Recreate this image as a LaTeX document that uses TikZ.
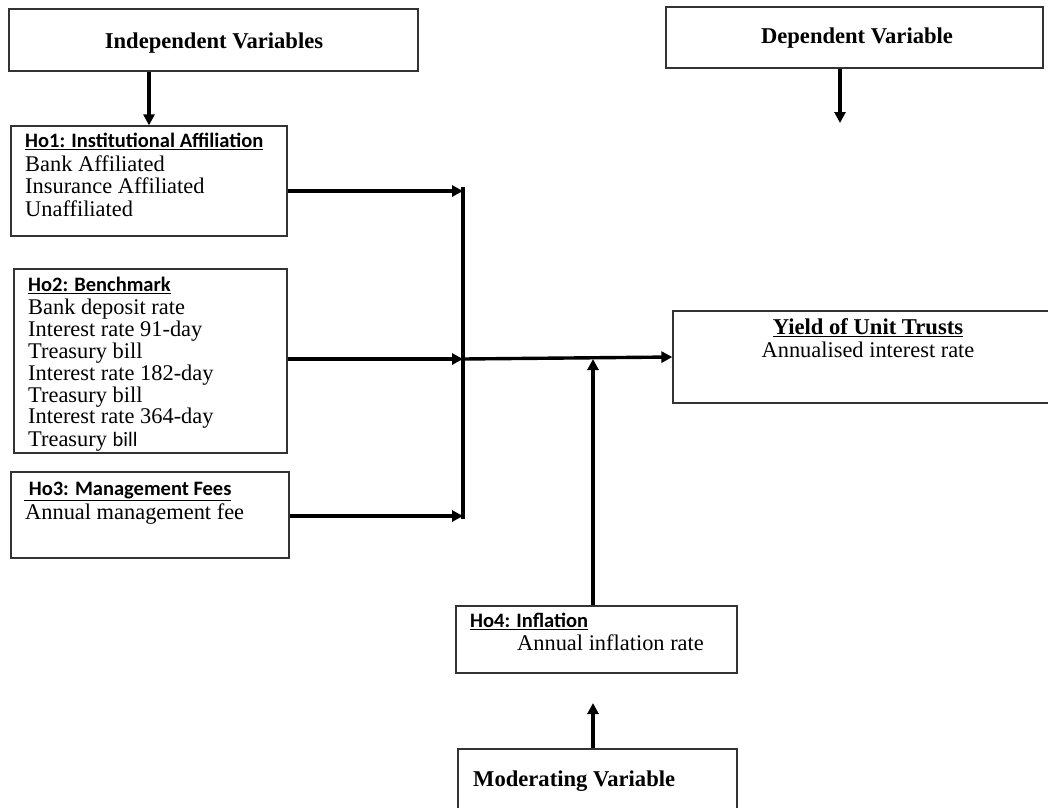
\documentclass[tikz,border=0pt]{standalone}
\usepackage{fontspec}
\setmainfont{Liberation Serif}
\newfontfamily\calib{Carlito}
\usetikzlibrary{arrows.meta}
\begin{document}
\begin{tikzpicture}[x=1pt,y=-1pt,
 box/.style={draw=black!80, line width=1.3pt, inner sep=0pt, rectangle},
 conn/.style={line width=3.4pt, black},
 arr/.style={conn, -{Triangle[length=11pt,width=11pt]}},
 txt/.style={anchor=mid west, inner sep=0pt, font=\fontsize{22.4}{23}\selectfont},
 hd/.style={anchor=mid west, inner sep=0pt, font=\calib\bfseries\fontsize{20.5}{21}\selectfont},
 ttl/.style={anchor=mid, inner sep=0pt, font=\bfseries\fontsize{22.6}{23}\selectfont}]
\useasboundingbox (0,0) rectangle (1048,807);
% boxes
\node[box, minimum width=409pt, minimum height=62pt] (indep) at (213.5,40) {};
\node[box, minimum width=377pt, minimum height=61pt] (dep) at (854.5,37.5) {};
\node[box, minimum width=276pt, minimum height=110pt] (ho1) at (149,181) {};
\node[box, minimum width=273pt, minimum height=184pt] (ho2) at (150.5,361) {};
\node[box, minimum width=278pt, minimum height=86pt] (ho3) at (150,515) {};
\node[box, minimum width=380pt, minimum height=92pt] (yield) at (863,357) {};
\node[box, minimum width=281pt, minimum height=67pt] (ho4) at (596.5,639.5) {};
\node[box, minimum width=279pt, minimum height=81pt] (mod) at (597.5,789.5) {};
% texts
\node[ttl] (indeptxt) at (214,46) {Independent Variables};
\node[ttl] (deptxt) at (857,41) {Dependent Variable};
\node[hd] (h1) at (25,145) {\underline{Ho1: Institutional Affiliation}};
\node[txt] (h1a) at (25,169) {Bank Affiliated};
\node[txt] (h1b) at (25,191) {Insurance Affiliated};
\node[txt] (h1c) at (25,214) {Unaffiliated};
\node[hd] (h2) at (28,289) {\underline{Ho2: Benchmark}};
\node[txt] (h2a) at (28,312) {Bank deposit rate};
\node[txt] (h2b) at (28,334) {Interest rate 91-day};
\node[txt] (h2c) at (28,356) {Treasury bill};
\node[txt] (h2d) at (28,378) {Interest rate 182-day};
\node[txt] (h2e) at (28,400) {Treasury bill};
\node[txt] (h2f) at (28,421) {Interest rate 364-day};
\node[txt] (h2g) at (28,444) {Treasury {\calib\fontsize{20.5}{21}\selectfont bill}};
\node[hd] (h3) at (24,493) {\underline{\ Ho3: Management Fees}};
\node[txt] (h3a) at (25,517) {Annual management fee};
\node[ttl] (ytxt) at (868,332) {\underline{Yield of Unit Trusts}};
\node[txt, anchor=mid] (ytxt2) at (868,355) {Annualised interest rate};
\node[hd] (h4) at (470,625) {\underline{Ho4: Inflation}};
\node[txt] (h4a) at (517,648) {Annual inflation rate};
\node[ttl, anchor=mid west] (modtxt) at (473,784) {Moderating Variable};
% connectors
\coordinate (c1) at (149,0);
\draw[arr] (indep.south -| c1) -- (ho1.north -| c1);
\coordinate (d1) at (840,123);
\draw[arr] (dep.south -| d1) -- (d1);
\coordinate (vtop) at (463,187);
\coordinate (vbot) at (463,519);
\coordinate (v1) at (463,191);
\coordinate (v2) at (463,359);
\coordinate (v3) at (463,516);
\draw[conn] (vtop) -- (vbot);
\draw[arr] (ho1.east |- v1) -- (v1);
\draw[arr] (ho2.east |- v2) -- (v2);
\draw[arr] (ho3.east |- v3) -- (v3);
\draw[arr] (v2) -- (yield.west);
\coordinate (m1) at (593,359);
\draw[arr] (ho4.north -| m1) -- (m1);
\coordinate (m2) at (593,703);
\draw[arr] (mod.north -| m2) -- (m2);
\end{tikzpicture}
\end{document}
